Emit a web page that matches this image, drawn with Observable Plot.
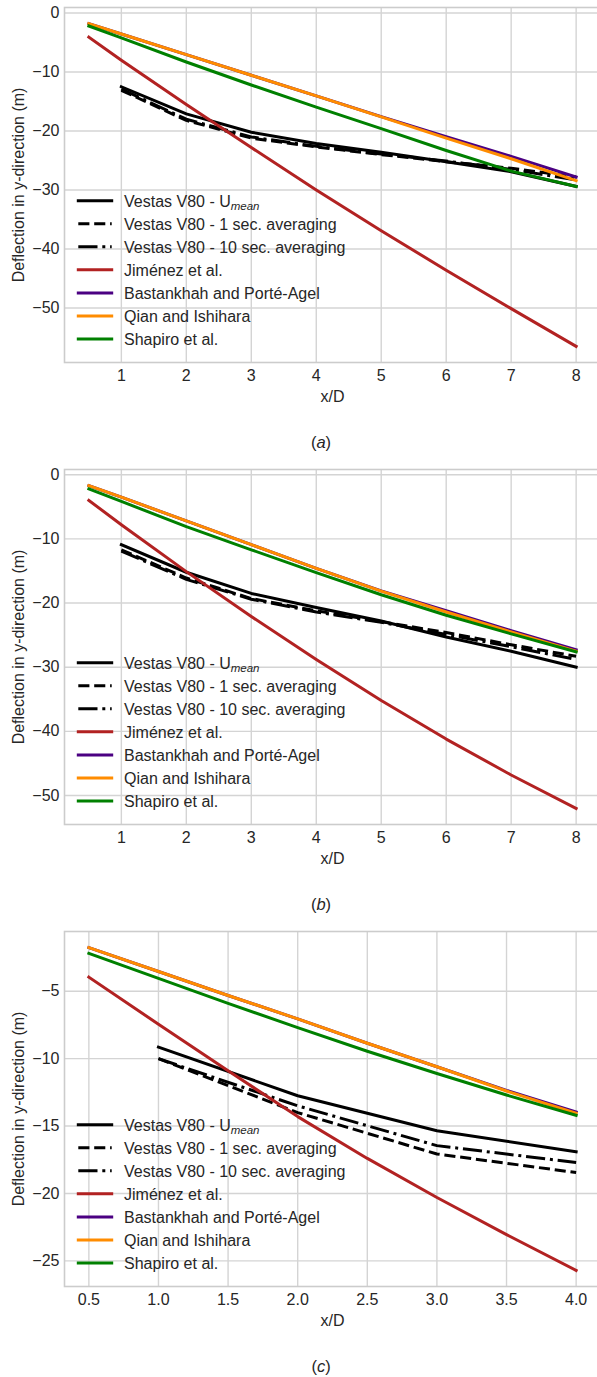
<!DOCTYPE html>
<html>
<head>
<meta charset="utf-8">
<script src="https://cdn.jsdelivr.net/npm/d3@7"></script>
<script src="https://cdn.jsdelivr.net/npm/@observablehq/plot@0.6"></script>
<style>
  html, body { margin: 0; padding: 0; background: #ffffff; overflow: hidden; }
  #figure { position: relative; width: 597px; height: 1377px; overflow: hidden;
            font-family: "Liberation Sans", Arial, sans-serif; color: #262626; }
  .panel { position: absolute; left: 0; width: 600px; height: 462px; }
  .panel > svg.legend { position: absolute; left: 0; top: 0; pointer-events: none; }
  .caption { position: absolute; font-size: 16.5px; line-height: 1; transform: translate(-50%, -50%);
             white-space: nowrap; color: #262626; }
</style>
</head>
<body>
<div id="figure"></div>
<script>
// Legend entries, drawn in this order
const seriesNames = [
  "Vestas V80 - U",
  "Vestas V80 - 1 sec. averaging",
  "Vestas V80 - 10 sec. averaging",
  "Jiménez et al.",
  "Bastankhah and Porté-Agel",
  "Qian and Ishihara",
  "Shapiro et al."
];
const seriesColors = ["#000000", "#000000", "#000000", "#b22222", "#4b0082", "#ff8c00", "#008000"];
const seriesDashes = [null, "11.1,4.8", "19.2,4.8,3,4.8", null, null, null, null];

// ---- Panel (a) ----
const xModelA = [0.5, 1, 2, 3, 4, 5, 6, 7, 8];
const jimenezA    = [-4.1, -8.0, -15.5, -22.8, -30.0, -36.9, -43.6, -50.1, -56.5];
const bastankhahA = [-1.8, -3.55, -7.05, -10.55, -14.05, -17.55, -20.95, -24.3, -27.8];
const qianA       = [-1.8, -3.55, -7.05, -10.55, -14.05, -17.6, -21.2, -24.7, -28.4];
const shapiroA    = [-2.2, -4.2, -8.3, -12.2, -15.95, -19.6, -23.3, -26.8, -29.4];
const xMeasA = [1, 2, 3, 4, 5, 6, 7, 8];
const umeanA   = [-12.5, -17.1, -20.2, -22.1, -23.6, -25.2, -26.9, -29.4];
const sec1A    = [-13.1, -18.2, -21.2, -22.7, -24.0, -25.2, -26.3, -27.8];
const sec10A   = [-12.9, -18.0, -21.0, -22.6, -23.9, -25.1, -26.5, -28.3];
const xTicksA = [1, 2, 3, 4, 5, 6, 7, 8];
const yTicksA = [0, -10, -20, -30, -40, -50];

// ---- Panel (b) ----
const xModelB = [0.5, 1, 2, 3, 4, 5, 6, 7, 8];
const jimenezB    = [-4.0, -7.8, -15.1, -22.1, -28.8, -35.2, -41.2, -46.8, -52.0];
const bastankhahB = [-1.7, -3.5, -7.2, -10.9, -14.6, -18.1, -21.2, -24.3, -27.3];
const qianB       = [-1.7, -3.5, -7.2, -10.9, -14.6, -18.15, -21.4, -24.5, -27.5];
const shapiroB    = [-2.2, -4.15, -8.1, -11.7, -15.25, -18.7, -21.9, -24.8, -27.6];
const xMeasB = [1, 2, 3, 4, 5, 6, 7, 8];
const umeanB   = [-10.9, -15.2, -18.5, -20.7, -22.8, -25.3, -27.5, -30.0];
const sec1B    = [-11.7, -16.1, -19.3, -21.2, -22.9, -24.6, -26.5, -28.3];
const sec10B   = [-11.9, -16.3, -19.4, -21.4, -23.0, -24.9, -26.8, -28.8];
const xTicksB = [1, 2, 3, 4, 5, 6, 7, 8];
const yTicksB = [0, -10, -20, -30, -40, -50];

// ---- Panel (c) ----
const xModelC = [0.5, 1, 1.5, 2, 2.5, 3, 3.5, 4];
const jimenezC    = [-3.96, -7.45, -10.9, -14.3, -17.4, -20.3, -23.05, -25.7];
const bastankhahC = [-1.77, -3.54, -5.32, -7.05, -8.86, -10.6, -12.35, -13.95];
const qianC       = [-1.77, -3.54, -5.32, -7.05, -8.86, -10.6, -12.4, -14.05];
const shapiroC    = [-2.2, -4.05, -5.9, -7.7, -9.45, -11.1, -12.7, -14.2];
const xMeasC = [1, 2, 3, 4];
const umeanC   = [-9.15, -12.75, -15.35, -16.9];
const sec1C    = [-10.0, -14.0, -17.07, -18.45];
const sec10C   = [-10.0, -13.5, -16.45, -17.7];
const xTicksC = [0.5, 1.0, 1.5, 2.0, 2.5, 3.0, 3.5, 4.0];
const yTicksC = [-5, -10, -15, -20, -25];

const captions = ["a", "b", "c"];

// Axis limits with a 5% margin on each side of the data
function padded(values) {
  const [lo, hi] = d3.extent(values);
  const m = (hi - lo) * 0.05;
  return [lo - m, hi + m];
}

const GRID = "#d4d4d4";
const INK = "#262626";
const FONT = '"Liberation Sans", Arial, sans-serif';

function panel({xModel, models, xMeas, measured, xTicks, yTicks, xFormat}) {
  const curves = [
    ...measured.map((ys, i) => ({xs: xMeas, ys, k: i})),
    ...models.map((ys, i) => ({xs: xModel, ys, k: i + 3}))
  ];
  const xDomain = padded(curves.flatMap(c => c.xs));
  const yDomain = padded(curves.flatMap(c => c.ys));
  return Plot.plot({
    width: 600,
    height: 410,
    marginTop: 7,
    marginBottom: 48,
    marginLeft: 64,
    marginRight: 0,
    style: {fontFamily: FONT, fontSize: "16px", color: INK, background: "#ffffff",
            maxWidth: "none", overflow: "visible"},
    x: {domain: xDomain},
    y: {domain: yDomain},
    marks: [
      Plot.gridX(xTicks, {stroke: GRID, strokeOpacity: 1, strokeWidth: 1.4}),
      Plot.gridY(yTicks, {stroke: GRID, strokeOpacity: 1, strokeWidth: 1.4}),
      Plot.frame({stroke: "#cccccc", strokeWidth: 1.6}),
      Plot.axisX({ticks: xTicks, tickSize: 0, tickPadding: 7, tickFormat: xFormat,
                  fontSize: 16, label: "x/D", labelAnchor: "center", labelArrow: "none",
                  labelOffset: 39}),
      Plot.axisY({ticks: yTicks, tickSize: 0, tickPadding: 5, fontSize: 16,
                  label: "Deflection in y-direction (m)", labelAnchor: "center",
                  labelArrow: "none", labelOffset: 52}),
      ...curves.map(c => Plot.line(d3.zip(c.xs, c.ys), {
        x: d => d[0],
        y: d => d[1],
        stroke: seriesColors[c.k],
        strokeWidth: 3,
        strokeDasharray: seriesDashes[c.k] ?? undefined,
        strokeLinecap: seriesDashes[c.k] ? "butt" : "square",
        strokeLinejoin: "round"
      }))
    ]
  });
}

function legend(host) {
  const svg = d3.select(host).append("svg")
    .attr("class", "legend")
    .attr("width", 597).attr("height", 462)
    .attr("font-family", FONT).attr("font-size", 16).attr("fill", INK);
  seriesNames.forEach((name, i) => {
    const cy = 200.7 + 23.05 * i;
    svg.append("line")
      .attr("x1", 78.3).attr("x2", 111.7).attr("y1", cy).attr("y2", cy)
      .attr("stroke", seriesColors[i]).attr("stroke-width", 3)
      .attr("stroke-dasharray", seriesDashes[i])
      .attr("stroke-linecap", seriesDashes[i] ? "butt" : "square");
    const t = svg.append("text").attr("x", 124).attr("y", cy + 5.8).text(name);
    if (i === 0) {
      t.append("tspan").attr("font-size", 11.5).attr("font-style", "italic")
        .attr("dy", 3).text("mean");
    }
  });
}

const panels = [
  {xModel: xModelA, models: [jimenezA, bastankhahA, qianA, shapiroA],
   xMeas: xMeasA, measured: [umeanA, sec1A, sec10A], xTicks: xTicksA, yTicks: yTicksA,
   xFormat: d3.format("d")},
  {xModel: xModelB, models: [jimenezB, bastankhahB, qianB, shapiroB],
   xMeas: xMeasB, measured: [umeanB, sec1B, sec10B], xTicks: xTicksB, yTicks: yTicksB,
   xFormat: d3.format("d")},
  {xModel: xModelC, models: [jimenezC, bastankhahC, qianC, shapiroC],
   xMeas: xMeasC, measured: [umeanC, sec1C, sec10C], xTicks: xTicksC, yTicks: yTicksC,
   xFormat: d3.format(".1f")}
];

const figure = document.getElementById("figure");
panels.forEach((p, i) => {
  const div = document.createElement("div");
  div.className = "panel";
  div.style.top = (462 * i) + "px";
  div.appendChild(panel(p));
  legend(div);
  const cap = document.createElement("div");
  cap.className = "caption";
  cap.style.left = "321px";
  cap.style.top = "442px";
  cap.innerHTML = "(<i>" + captions[i] + "</i>)";
  div.appendChild(cap);
  figure.appendChild(div);
});
</script>
</body>
</html>
